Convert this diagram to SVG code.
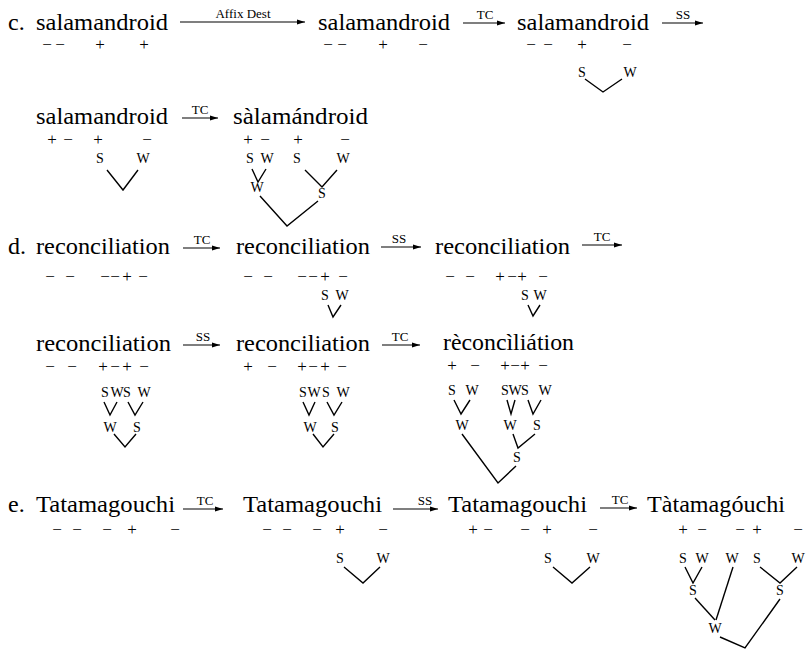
<svg xmlns="http://www.w3.org/2000/svg" width="806" height="651" viewBox="0 0 806 651">
<defs>
<marker id="ah" markerUnits="userSpaceOnUse" markerWidth="8" markerHeight="6" refX="8" refY="3" orient="auto"><path d="M0,0.5 L8,3 L0,5.5 z" fill="#000"/></marker>
<style>
text{font-family:"Liberation Serif","DejaVu Serif",serif;fill:#000}
.w{font-size:24px}
.s{font-size:17px;text-anchor:middle}
.n{font-size:14px;text-anchor:middle}
.l{font-size:13px;text-anchor:middle}
.t{fill:none;stroke:#000;stroke-width:1.4}
.a{stroke:#000;stroke-width:1.2;marker-end:url(#ah)}
</style>
</defs>
<rect width="806" height="651" fill="#fff"/>
<g id="labels">
<text class="w" x="8" y="30">c.</text>
<text class="w" x="8" y="254">d.</text>
<text class="w" x="8" y="512">e.</text>
</g>
<g id="c1">
<text class="w" x="36" y="30" textLength="132" lengthAdjust="spacingAndGlyphs">salamandroid</text>
<text class="s" x="47 60 100 144" y="50">−−++</text>
</g>
<g id="c2">
<text class="w" x="318" y="30" textLength="132" lengthAdjust="spacingAndGlyphs">salamandroid</text>
<text class="s" x="328 342 383 423" y="50">−−+−</text>
</g>
<g id="c3">
<text class="w" x="517" y="30" textLength="132" lengthAdjust="spacingAndGlyphs">salamandroid</text>
<text class="s" x="531 548 582 627" y="50">−−+−</text>
<text class="n" x="582 630" y="77">SW</text>
<polyline class="t" points="585,79 603,92 622,79"/>
</g>
<g id="c4">
<text class="w" x="36" y="124" textLength="132" lengthAdjust="spacingAndGlyphs">salamandroid</text>
<text class="s" x="52 68 98 147" y="145">+−+−</text>
<text class="n" x="100 143" y="163">SW</text>
<polyline class="t" points="107,170 123,190 138,170"/>
</g>
<g id="c5">
<text class="w" x="233" y="124" textLength="135" lengthAdjust="spacingAndGlyphs">sàlamándroid</text>
<text class="s" x="248 265 298 345" y="145">+−+−</text>
<text class="n" x="250 267 297 343" y="163">SWSW</text>
<polyline class="t" points="252,169 258,182 266,169"/>
<text class="n" x="257" y="192">W</text>
<polyline class="t" points="305,170 322,187 337,170"/>
<text class="n" x="322" y="198">S</text>
<polyline class="t" points="260,196 287,226 318,201"/>
</g>
<g id="d1">
<text class="w" x="36" y="254" textLength="134" lengthAdjust="spacingAndGlyphs">reconciliation</text>
<text class="s" x="50 70 105 115 127 143" y="282">−−−−+−</text>
</g>
<g id="d2">
<text class="w" x="236" y="254" textLength="134" lengthAdjust="spacingAndGlyphs">reconciliation</text>
<text class="s" x="248 268 302 313 325 343" y="282">−−−−+−</text>
<text class="n" x="325 342" y="300">SW</text>
<polyline class="t" points="328,305 333,317 341,305"/>
</g>
<g id="d3">
<text class="w" x="435" y="254" textLength="135" lengthAdjust="spacingAndGlyphs">reconciliation</text>
<text class="s" x="450 470 500 512 522 543" y="282">−−+−+−</text>
<text class="n" x="525 540" y="300">SW</text>
<polyline class="t" points="528,305 533,316 540,305"/>
</g>
<g id="d4">
<text class="w" x="36" y="351" textLength="135" lengthAdjust="spacingAndGlyphs">reconciliation</text>
<text class="s" x="50 72 103 115 127 144" y="372">−−+−+−</text>
<text class="n" x="105 117 127 144" y="397">SWSW</text>
<polyline class="t" points="104,402 110,415 117,402"/>
<polyline class="t" points="128,402 135,415 143,402"/>
<text class="n" x="110 137" y="432">WS</text>
<polyline class="t" points="114,434 125,447 136,434"/>
</g>
<g id="d5">
<text class="w" x="236" y="351" textLength="134" lengthAdjust="spacingAndGlyphs">reconciliation</text>
<text class="s" x="248 272 302 313 325 342" y="372">+−+−+−</text>
<text class="n" x="303 314 326 343" y="397">SWSW</text>
<polyline class="t" points="303,402 309,415 315,402"/>
<polyline class="t" points="327,402 334,415 342,402"/>
<text class="n" x="310 335" y="432">WS</text>
<polyline class="t" points="313,434 323,447 334,434"/>
</g>
<g id="d6">
<text class="w" x="443" y="350" textLength="131" lengthAdjust="spacingAndGlyphs">rèconcìliátion</text>
<text class="s" x="452 475 505 515 525 543" y="371">+−+−+−</text>
<text class="n" x="452 472 505 515 525 545" y="395">SWSWSW</text>
<polyline class="t" points="454,400 461,414 470,400"/>
<polyline class="t" points="507,400 511,414 515,400"/>
<polyline class="t" points="528,400 533,414 541,400"/>
<text class="n" x="462 510 537" y="430">WWS</text>
<polyline class="t" points="513,434 518,448 535,434"/>
<text class="n" x="517" y="462">S</text>
<polyline class="t" points="462,434 498,483 516,466"/>
</g>
<g id="e1">
<text class="w" x="36" y="512" textLength="139" lengthAdjust="spacingAndGlyphs">Tatamagouchi</text>
<text class="s" x="57 77 107 132 175" y="535">−−−+−</text>
</g>
<g id="e2">
<text class="w" x="243" y="512" textLength="139" lengthAdjust="spacingAndGlyphs">Tatamagouchi</text>
<text class="s" x="267 287 317 340 383" y="535">−−−+−</text>
<text class="n" x="340 383" y="563">SW</text>
<polyline class="t" points="344,567 363,583 380,567"/>
</g>
<g id="e3">
<text class="w" x="448" y="512" textLength="139" lengthAdjust="spacingAndGlyphs">Tatamagouchi</text>
<text class="s" x="473 488 525 547 593" y="535">+−−+−</text>
<text class="n" x="548 593" y="563">SW</text>
<polyline class="t" points="553,567 572,583 590,567"/>
</g>
<g id="e4">
<text class="w" x="647" y="512" textLength="138" lengthAdjust="spacingAndGlyphs">Tàtamagóuchi</text>
<text class="s" x="683 702 740 757 798" y="535">+−−+−</text>
<text class="n" x="683 702 732 757 798" y="563">SWWSW</text>
<polyline class="t" points="685,567 693,583 702,567"/>
<polyline class="t" points="760,567 780,583 797,567"/>
<text class="n" x="693 780" y="595">SS</text>
<polyline class="t" points="695,598 715,620"/>
<polyline class="t" points="733,567 716,620"/>
<text class="n" x="715" y="633">W</text>
<polyline class="t" points="720,637 745,648 780,599"/>
</g>
<g id="connectors">
<line class="a" x1="180" y1="22" x2="305" y2="22"/>
<text class="l" x="243" y="18">Affix Dest</text>
<line class="a" x1="463" y1="23" x2="505" y2="23"/>
<text class="l" x="485" y="19">TC</text>
<line class="a" x1="662" y1="23" x2="703" y2="23"/>
<text class="l" x="683" y="19">SS</text>
<line class="a" x1="182" y1="118" x2="218" y2="118"/>
<text class="l" x="200" y="114">TC</text>
<line class="a" x1="183" y1="248" x2="220" y2="248"/>
<text class="l" x="202" y="244">TC</text>
<line class="a" x1="381" y1="247" x2="421" y2="247"/>
<text class="l" x="399" y="243">SS</text>
<line class="a" x1="582" y1="245" x2="622" y2="245"/>
<text class="l" x="602" y="241">TC</text>
<line class="a" x1="183" y1="345" x2="220" y2="345"/>
<text class="l" x="203" y="341">SS</text>
<line class="a" x1="382" y1="345" x2="420" y2="345"/>
<text class="l" x="400" y="341">TC</text>
<line class="a" x1="183" y1="509" x2="223" y2="509"/>
<text class="l" x="205" y="505">TC</text>
<line class="a" x1="393" y1="509" x2="438" y2="509"/>
<text class="l" x="425" y="505">SS</text>
<line class="a" x1="600" y1="508" x2="637" y2="508"/>
<text class="l" x="620" y="504">TC</text>
</g>
</svg>
